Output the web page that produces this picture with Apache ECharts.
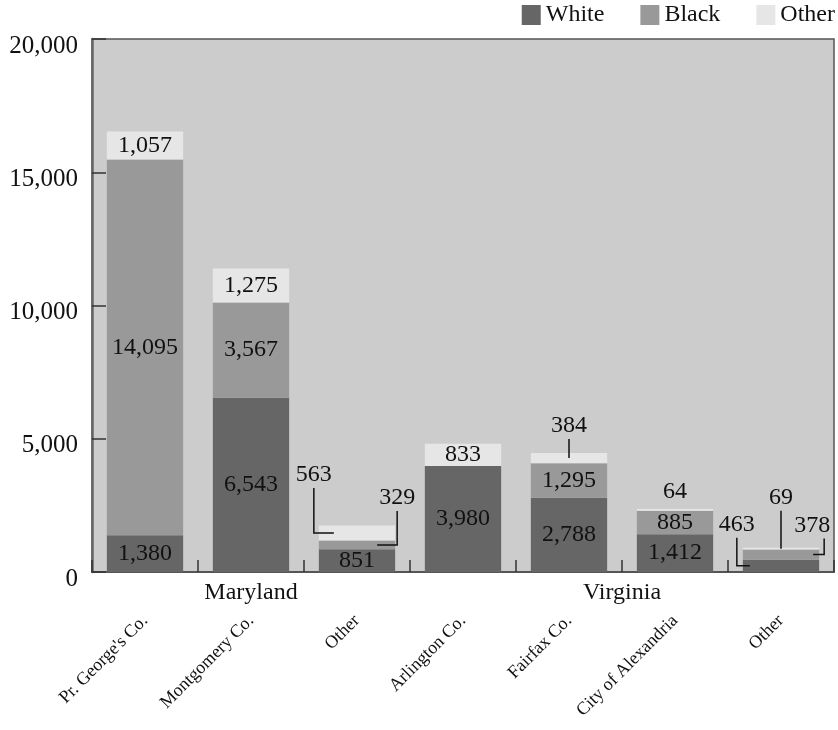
<!DOCTYPE html>
<html>
<head>
<meta charset="utf-8">
<script src="https://cdn.jsdelivr.net/npm/echarts@6/dist/echarts.min.js"></script>
<style>
  html, body { margin: 0; padding: 0; background: #ffffff; }
  #chart { width: 838px; height: 730px; }
</style>
</head>
<body>
<div id="chart"></div>
<script>
// Jurisdictions along the x axis
const categories = ["Pr. George's Co.", "Montgomery Co.", "Other", "Arlington Co.", "Fairfax Co.", "City of Alexandria", "Other"];

// State groupings (first and last category index of each)
const groupNames = ["Maryland", "Virginia"];
const groupStart = [0, 3];
const groupEnd = [2, 6];

// Stacked counts per jurisdiction
const seriesNames = ["White", "Black", "Other"];
const whiteValues = [1380, 6543, 851, 3980, 2788, 1412, 463];
const blackValues = [14095, 3567, 329, 0, 1295, 885, 378];
const otherValues = [1057, 1275, 563, 833, 384, 64, 69];

// Value axis ticks
const yTicks = [0, 5000, 10000, 15000, 20000];

const FONT = "'Liberation Serif', 'DejaVu Serif', 'Times New Roman', serif";
const COLORS = ["#666666", "#999999", "#e6e6e6"];
const BAR_RATIO = 0.72;

const allValues = [whiteValues, blackValues, otherValues];

// Segments too thin for an inside label get a callout with a leader line.
// side: where the label sits; out: leader offset outside the bar edge;
// inset: how far the horizontal leg reaches into the bar; rise: leader height.
const callouts = [
  { s: 2, c: 2, side: "left",  out: 5, inset: 15, rise: 45, dx: 0 },
  { s: 1, c: 2, side: "right", out: 2, inset: 18, rise: 34, dx: 0 },
  { s: 2, c: 4, side: "top",   rise: 19, dx: 0 },
  { s: 2, c: 5, side: "top",   rise: 5, dx: 0, noLine: true },
  { s: 0, c: 6, side: "left",  out: 6, inset: 7, rise: 28, dx: 0 },
  { s: 2, c: 6, side: "top",   rise: 38, dx: 0 },
  { s: 1, c: 6, side: "right", out: 5, inset: 6, rise: 16, dx: -12 }
];

function isCallout(s, c) {
  return callouts.some(function (o) { return o.s === s && o.c === c; });
}
function fmt(v) {
  return Number(v).toLocaleString("en-US");
}
function stackBase(s, c) {
  let b = 0;
  for (let k = 0; k < s; k++) b += allValues[k][c];
  return b;
}

const barSeries = allValues.map(function (vals, s) {
  return {
    name: seriesNames[s],
    type: "bar",
    stack: "total",
    barWidth: (BAR_RATIO * 100) + "%",
    itemStyle: { color: COLORS[s] },
    label: {
      show: true,
      position: "inside",
      color: "#111",
      fontFamily: FONT,
      fontSize: 24,
      formatter: function (p) { return p.value ? fmt(p.value) : ""; }
    },
    data: vals.map(function (v, c) {
      return isCallout(s, c) ? { value: v, label: { show: false } } : v;
    })
  };
});

// Callout labels with leader lines, placed through the axis scales
const calloutSeries = {
  type: "custom",
  silent: true,
  z: 5,
  encode: { x: 0, y: [1, 2] },
  data: callouts.map(function (o) {
    const lo = stackBase(o.s, o.c);
    return [o.c, lo, lo + allValues[o.s][o.c]];
  }),
  renderItem: function (params, api) {
    const o = callouts[params.dataIndex];
    const cat = api.value(0);
    const pLo = api.coord([cat, api.value(1)]);
    const pHi = api.coord([cat, api.value(2)]);
    const xc = pLo[0];
    const bw = api.size([1, 0])[0] * BAR_RATIO;
    const yMid = (pLo[1] + pHi[1]) / 2;
    const text = fmt(allValues[o.s][o.c]);
    let lx, points;
    const top = yMid - o.rise;
    if (o.side === "left") {
      lx = xc - bw / 2 - o.out;
      points = [[lx, top], [lx, yMid], [xc - bw / 2 + o.inset, yMid]];
    } else if (o.side === "right") {
      lx = xc + bw / 2 + o.out;
      points = [[lx, top], [lx, yMid], [xc + bw / 2 - o.inset, yMid]];
    } else {
      lx = xc;
      points = [[lx, top], [lx, yMid]];
    }
    const children = [];
    if (!o.noLine) {
      children.push({
        type: "polyline",
        shape: { points: points },
        style: { stroke: "#111", lineWidth: 1.5, fill: null }
      });
    }
    children.push({
      type: "text",
      style: {
        text: text,
        x: lx + o.dx,
        y: top - 13,
        align: "center",
        verticalAlign: "middle",
        fill: "#111",
        font: "24px " + FONT
      }
    });
    return { type: "group", children: children };
  }
};

// State names centred under their jurisdictions
const groupSeries = {
  type: "custom",
  silent: true,
  clip: false,
  encode: { x: [0, 1], y: 2 },
  data: groupStart.map(function (s, i) { return [s, groupEnd[i], 0]; }),
  renderItem: function (params, api) {
    const a = api.coord([api.value(0), 0]);
    const b = api.coord([api.value(1), 0]);
    return {
      type: "text",
      style: {
        text: groupNames[params.dataIndex],
        x: (a[0] + b[0]) / 2,
        y: a[1] + 21,
        align: "center",
        verticalAlign: "middle",
        fill: "#111",
        font: "24px " + FONT
      }
    };
  }
};

const chart = echarts.init(document.getElementById("chart"), null, { renderer: "canvas" });
chart.setOption({
  animation: false,
  backgroundColor: "#ffffff",
  textStyle: { fontFamily: FONT },
  legend: {
    data: seriesNames,
    right: 3,
    top: 3,
    padding: 0,
    icon: "rect",
    itemWidth: 19,
    itemHeight: 20,
    itemGap: 36,
    textStyle: { fontFamily: FONT, fontSize: 24, color: "#111" }
  },
  grid: {
    left: 92,
    right: 4,
    top: 39,
    bottom: 158,
    show: true,
    backgroundColor: "#cccccc",
    borderColor: "#555555",
    borderWidth: 1.5
  },
  xAxis: {
    type: "category",
    data: categories,
    axisLine: { show: true, lineStyle: { color: "#555555", width: 2 } },
    axisTick: { show: true, inside: true, length: 12, interval: 0, lineStyle: { color: "#333333", width: 1.5 } },
    axisLabel: {
      interval: 0,
      rotate: 45,
      margin: 46,
      fontFamily: FONT,
      fontSize: 18,
      color: "#111"
    },
    splitLine: { show: false }
  },
  yAxis: {
    type: "value",
    min: yTicks[0],
    max: yTicks[yTicks.length - 1],
    interval: yTicks[1] - yTicks[0],
    axisLine: { show: true, lineStyle: { color: "#666666", width: 2.5 } },
    axisTick: { show: true, inside: true, length: 14, lineStyle: { color: "#333333", width: 1.5 } },
    axisLabel: {
      margin: 14,
      fontFamily: FONT,
      fontSize: 25,
      color: "#111",
      verticalAlign: "top",
      lineHeight: 14,
      formatter: function (v) { return fmt(v); }
    },
    splitLine: { show: false }
  },
  series: barSeries.concat([calloutSeries, groupSeries])
});
</script>
</body>
</html>
